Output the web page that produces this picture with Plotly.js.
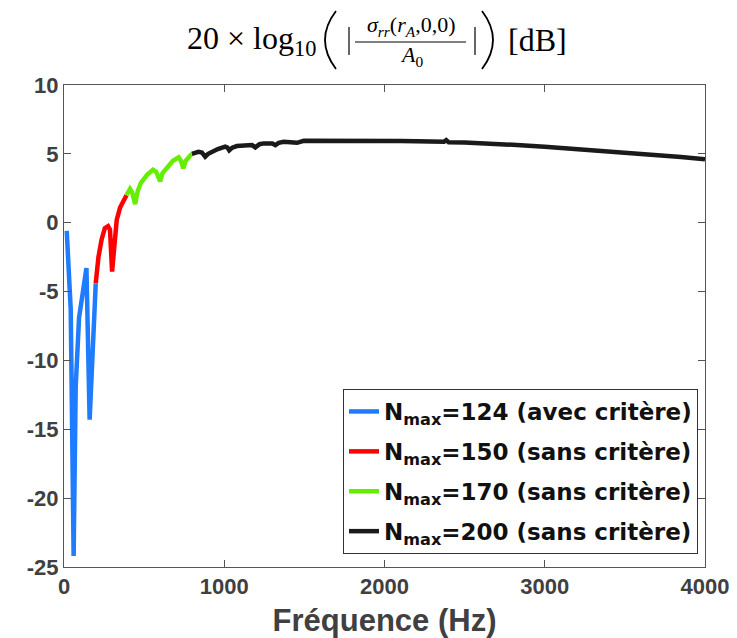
<!DOCTYPE html>
<html>
<head>
<meta charset="utf-8">
<script src="https://cdn.plot.ly/plotly-3.0.1.min.js"></script>
<style>html,body{margin:0;padding:0;background:#fff;}#chart{width:737px;height:638px;}</style>
</head>
<body>
<div id="chart"></div>
<script>
// ---- data ----
const blueFreq = [17, 42, 60, 73, 94, 140, 160, 198];
const blueDb   = [-0.6, -6.3, -24.2, -11.9, -6.9, -3.3, -14.3, -4.4];

const redFreq = [198, 215, 235, 255, 275, 287, 300, 310, 329, 350, 370, 390];
const redDb   = [-4.4, -2.5, -1.2, -0.4, -0.25, -0.5, -3.55, -2.0, 0.2, 1.1, 1.6, 2.0];

const greenFreq = [390, 412, 425, 444, 460, 480, 520, 555, 575, 600, 615, 642, 680, 715, 730, 744, 760, 798];
const greenDb   = [2.0, 2.45, 2.2, 1.35, 2.3, 2.9, 3.5, 3.85, 3.7, 3.0, 3.6, 4.0, 4.5, 4.75, 4.5, 3.95, 4.5, 5.0];

const blackFreq = [798, 839, 860, 881, 900, 922, 960, 1006, 1020, 1031, 1050, 1079, 1130, 1173, 1194, 1220, 1246, 1300, 1319, 1340, 1371, 1420, 1454, 1496, 1600, 1700, 1800, 1900, 2000, 2100, 2200, 2300, 2371, 2385, 2400, 2500, 2600, 2800, 3000, 3200, 3350, 3500, 3700, 3850, 4000];
const blackDb   = [5.0, 5.15, 5.1, 4.79, 5.0, 5.15, 5.35, 5.52, 5.45, 5.25, 5.45, 5.57, 5.62, 5.64, 5.47, 5.7, 5.76, 5.75, 5.64, 5.8, 5.88, 5.85, 5.8, 5.95, 5.96, 5.97, 5.98, 5.98, 5.97, 5.94, 5.92, 5.9, 5.88, 6.0, 5.85, 5.82, 5.78, 5.66, 5.52, 5.36, 5.23, 5.1, 4.92, 4.77, 4.6];

const seriesNames = [
  '<b>N<sub>max</sub>=124 (avec critère)</b>',
  '<b>N<sub>max</sub>=150 (sans critère)</b>',
  '<b>N<sub>max</sub>=170 (sans critère)</b>',
  '<b>N<sub>max</sub>=200 (sans critère)</b>'
];
const xTickVals = [0, 1000, 2000, 3000, 4000];
const xTickText = ['0', '1000', '2000', '3000', '4000'];
const yTickVals = [-25, -20, -15, -10, -5, 0, 5, 10];
const yTickText = ['-25', '-20', '-15', '-10', '-5', '0', '5', '10'];
const xTitle = '<b>Fréquence (Hz)</b>';

// ---- plot ----
const colors = ['#1f7bff', '#ff0000', '#66ee00', '#1a1a1a'];
const xs = [blueFreq, redFreq, greenFreq, blackFreq];
const ys = [blueDb, redDb, greenDb, blackDb];
const traces = xs.map((x, i) => ({
  x: x, y: ys[i], type: 'scatter', mode: 'lines', name: seriesNames[i],
  legendgroup: 'g' + i,
  line: {color: colors[i], width: 4.5}
}));

const L = 64, R = 705, T = 85, B = 567;
const px = v => (v - L) / (R - L);
const py = v => (B - v) / (B - T);
const serif = 'Liberation Serif, DejaVu Serif, serif';
function ann(text, x, y, size, extra) {
  return Object.assign({text: text, xref: 'paper', yref: 'paper', x: px(x), y: py(y),
    xanchor: 'center', yanchor: 'middle', showarrow: false,
    font: {family: serif, size: size, color: '#000'}}, extra || {});
}
const annotations = [
  ann('20 × log<sub>10</sub>', 318, 40, 32, {xanchor: 'right'}),
  ann('<i>σ<sub>rr</sub></i>(<i>r<sub>A</sub></i>,0,0)', 411, 26, 22),
  ann('<i>A</i><sub>0</sub>', 411, 56, 22),
  ann('[dB]', 537, 40, 32)
];
function pline(x0, y0, x1, y1, w) {
  return {type: 'line', xref: 'paper', yref: 'paper', x0: px(x0), x1: px(x1), y0: py(y0), y1: py(y1),
    line: {color: '#000', width: w}};
}
function ppath(pts, w) {
  const [a, c, b] = pts;
  return {type: 'path', xref: 'paper', yref: 'paper',
    path: 'M' + px(a[0]) + ',' + py(a[1]) + ' Q' + px(c[0]) + ',' + py(c[1]) + ' ' + px(b[0]) + ',' + py(b[1]),
    line: {color: '#000', width: w}};
}
const shapes = [
  pline(355, 42, 466, 42, 1),
  pline(349, 27, 349, 55, 1.2),
  pline(475, 27, 475, 55, 1.2),
  ppath([[336, 11], [314, 40], [336, 69]], 1.8),
  ppath([[482, 11], [504, 40], [482, 69]], 1.8)
];

const tickFont = {family: 'Liberation Sans, Arial, sans-serif', size: 22, color: '#404040', weight: 'bold'};
const layout = {
  width: 737, height: 638,
  margin: {l: L, r: 737 - R, t: T, b: 638 - B},
  paper_bgcolor: '#fff', plot_bgcolor: '#fff',
  showlegend: true,
  legend: {x: px(343), y: py(389), xanchor: 'left', yanchor: 'top', traceorder: 'grouped',
    bgcolor: '#fff', bordercolor: '#333', borderwidth: 1, tracegroupgap: 7,
    font: {family: 'DejaVu Sans, sans-serif', size: 23, color: '#111'}},
  xaxis: {range: [0, 4000], tickvals: xTickVals, ticktext: xTickText, ticks: 'inside', ticklen: 7,
    tickcolor: '#555', showline: true, linecolor: '#555', linewidth: 1, mirror: 'ticks',
    showgrid: false, zeroline: false, tickfont: tickFont, automargin: false,
    title: {text: xTitle, font: {family: 'Liberation Sans, Arial, sans-serif', size: 31, color: '#404040'}, standoff: 10}},
  yaxis: {range: [-25, 10], tickvals: yTickVals, ticktext: yTickText, ticks: 'inside', ticklen: 7,
    tickcolor: '#555', showline: true, linecolor: '#555', linewidth: 1, mirror: 'ticks',
    showgrid: false, zeroline: false, tickfont: tickFont, automargin: false},
  annotations: annotations,
  shapes: shapes
};
Plotly.newPlot('chart', traces, layout, {displayModeBar: false, staticPlot: true});
</script>
</body>
</html>
